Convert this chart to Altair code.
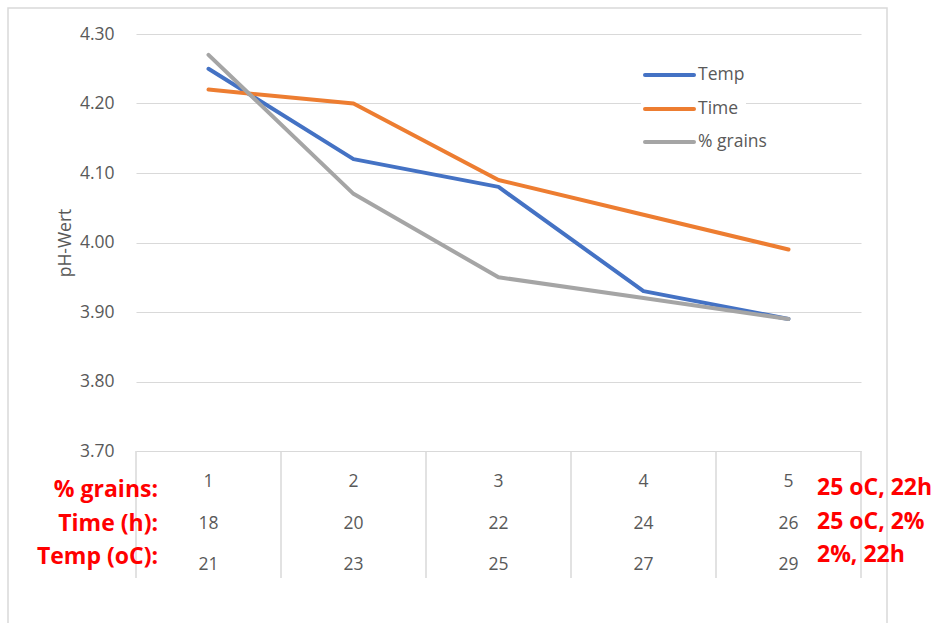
import altair as alt
import pandas as pd

# Trial number per setting and the three varied parameters
trial = [1, 2, 3, 4, 5]
time_h = [18, 20, 22, 24, 26]
temp_c = [21, 23, 25, 27, 29]

# Measured pH per series
ph_temp = [4.25, 4.12, 4.08, 3.93, 3.89]
ph_time = [4.22, 4.20, 4.09, 4.04, 3.99]
ph_grains = [4.27, 4.07, 3.95, 3.92, 3.89]

series_names = ["Temp", "Time", "% grains"]
series_colors = ["#4472C4", "#ED7D31", "#A5A5A5"]
y_ticks = [3.70, 3.80, 3.90, 4.00, 4.10, 4.20, 4.30]

row_labels = ["% grains:", "Time (h):", "Temp (oC):"]
fixed_labels = ["25 oC, 22h", "25 oC, 2%", "2%, 22h"]

W, H = 725, 417
FONT = "Open Sans"
GREY_TEXT = "#595959"
GRID = "#d9d9d9"
TXT = 17.5

x_scale = alt.Scale(domain=[0.5, 5.5], nice=False, zero=False)
y_scale = alt.Scale(domain=[3.70, 4.30], nice=False, zero=False)

y_axis = alt.Axis(
    values=y_ticks,
    format=".2f",
    title="pH-Wert",
    grid=True,
    gridColor=GRID,
    gridWidth=1.2,
    domain=False,
    ticks=False,
    labelFont=FONT,
    labelFontSize=TXT,
    labelColor=GREY_TEXT,
    labelPadding=22,
    titleFont=FONT,
    titleFontSize=TXT,
    titleFontWeight="normal",
    titleColor=GREY_TEXT,
    titlePadding=5,
)
x_enc = alt.X("x:Q", scale=x_scale, axis=None)
y_enc = alt.Y("ph:Q", scale=y_scale, axis=y_axis)

layers = []

# outer chart frame
frame = alt.Chart(pd.DataFrame({"k": [0]})).mark_rect(
    fillOpacity=0, stroke=GRID, strokeWidth=1.5
).encode(x=alt.value(-128), x2=alt.value(751), y=alt.value(-26), y2=alt.value(640))
layers.append(frame)

# vertical separators of the data table below the plot
bounds = [t - 0.5 for t in trial] + [trial[-1] + 0.5]
sep = alt.Chart(pd.DataFrame({"x": bounds})).mark_rule(color=GRID, strokeWidth=1.5).encode(
    x=x_enc, y=alt.value(H), y2=alt.value(544)
)
layers.append(sep)

# table values
table_rows = [trial, time_h, temp_c]
row_y = [448, 490, 531]
for vals, ry in zip(table_rows, row_y):
    tdf = pd.DataFrame({"x": trial, "v": vals})
    layers.append(
        alt.Chart(tdf).mark_text(
            font=FONT, fontSize=TXT, color=GREY_TEXT, baseline="middle", align="center"
        ).encode(x=x_enc, y=alt.value(ry), text="v:N")
    )

# legend background
layers.append(
    alt.Chart(pd.DataFrame({"k": [0]})).mark_rect(fill="white").encode(
        x=alt.value(505), x2=alt.value(610), y=alt.value(28), y2=alt.value(120)
    )
)

# series lines, grains drawn last
for name, color, vals in zip(series_names, series_colors, [ph_temp, ph_time, ph_grains]):
    df = pd.DataFrame({"x": trial, "ph": vals})
    layers.append(
        alt.Chart(df).mark_line(
            color=color, strokeWidth=4, strokeCap="round", strokeJoin="round"
        ).encode(x=x_enc, y=y_enc)
    )

# legend entries
legend_y = [41, 75, 108]
for name, color, ly in zip(series_names, series_colors, legend_y):
    ldf = pd.DataFrame({"name": [name]})
    layers.append(
        alt.Chart(ldf).mark_rule(color=color, strokeWidth=4, strokeCap="round").encode(
            x=alt.value(509), x2=alt.value(558), y=alt.value(ly)
        )
    )
    layers.append(
        alt.Chart(ldf).mark_text(
            font=FONT, fontSize=TXT, color=GREY_TEXT, align="left", baseline="middle"
        ).encode(x=alt.value(562), y=alt.value(ly), text="name:N")
    )

# red annotations of the table rows
for lbl, ly in zip(row_labels, [456, 490, 523]):
    layers.append(
        alt.Chart(pd.DataFrame({"t": [lbl]})).mark_text(
            font=FONT, fontSize=23, fontWeight="bold", color="#FF0000",
            align="right", baseline="middle"
        ).encode(x=alt.value(22), y=alt.value(ly), text="t:N")
    )
for lbl, ly in zip(fixed_labels, [454, 488, 521]):
    layers.append(
        alt.Chart(pd.DataFrame({"t": [lbl]})).mark_text(
            font=FONT, fontSize=23, fontWeight="bold", color="#FF0000",
            align="left", baseline="middle"
        ).encode(x=alt.value(681), y=alt.value(ly), text="t:N")
    )

chart = alt.layer(*layers).properties(
    width=W,
    height=H,
    autosize=alt.AutoSizeParams(type="none"),
    padding={"left": 136, "top": 34, "right": 81, "bottom": 172},
).configure_view(stroke=None)

chart.save("out.html", embed_options={"renderer": "svg", "actions": False})
